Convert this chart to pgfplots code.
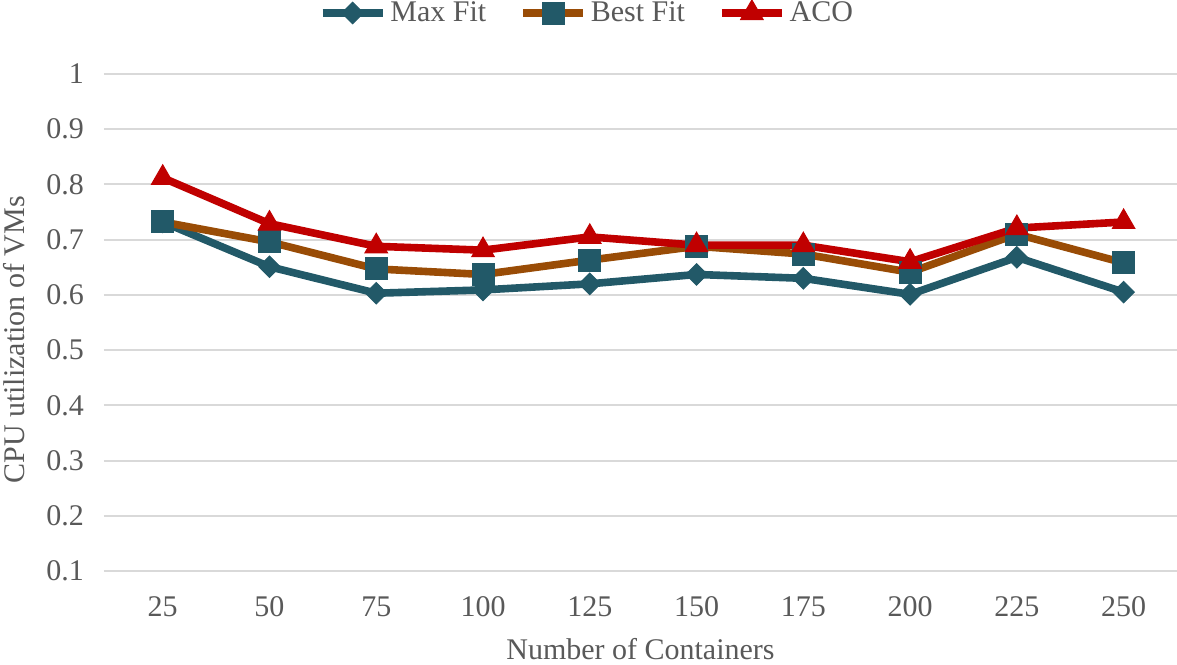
\documentclass[border=0pt]{standalone}
\usepackage{pgfplots}
\pgfplotsset{compat=1.18}
\usepackage{fontspec}
\setmainfont{Liberation Serif}

\definecolor{maxfit}{RGB}{34,89,104}
\definecolor{bestfit}{RGB}{153,76,6}
\definecolor{aco}{RGB}{192,0,0}
\definecolor{txt}{RGB}{89,89,89}
\definecolor{gridc}{RGB}{217,217,217}

\begin{document}
\begin{tikzpicture}
\begin{axis}[
  name=ax,
  scale only axis,
  width=536.5pt, height=248.5pt,
  xmin=-0.55, xmax=9.5,
  ymin=0.1, ymax=1,
  xtick={0,...,9},
  xticklabels={25,50,75,100,125,150,175,200,225,250},
  ytick={0.1,0.2,0.3,0.4,0.5,0.6,0.7,0.8,0.9,1},
  yticklabels={0.1,0.2,0.3,0.4,0.5,0.6,0.7,0.8,0.9,1},
  ymajorgrids,
  major grid style={color=gridc, line width=1pt},
  axis line style={draw=none},
  major tick length=0pt,
  clip=false,
  font=\fontsize{15}{18}\selectfont,
  /pgf/number format/assume math mode=true,
  tick label style={text=txt},
  xticklabel style={anchor=center, yshift=-18pt},
  yticklabel style={anchor=east, xshift=-6.5pt},
  xlabel={Number of Containers},
  ylabel={CPU utilization of VMs},
  label style={text=txt},
  xlabel style={at={(axis description cs:0.5,-0.158)}, anchor=center},
  ylabel style={at={(axis description cs:-0.084,0.465)}, anchor=center},
  legend style={at={(axis description cs:0.451,1)}, anchor=center, yshift=30.5pt,
    draw=none, fill=none, legend columns=3, text=txt,
    /tikz/every even column/.append style={column sep=14.5pt}},
  legend image code/.code={\draw[mark repeat=2,mark phase=2] plot coordinates {(0pt,0pt) (15pt,0pt) (30pt,0pt)};},
]
\addplot[color=maxfit, line width=3.8pt, mark=square*, mark size=3.8pt,
  mark options={rotate=45, line width=0.5pt, fill=maxfit, draw=maxfit}]
  coordinates {(0,0.732) (1,0.651) (2,0.603) (3,0.609) (4,0.620) (5,0.637) (6,0.630) (7,0.601) (8,0.668) (9,0.605)};
\addlegendentry{Max Fit}
\addplot[color=bestfit, line width=3.8pt, mark=square*, mark size=5.5pt,
  mark options={line width=0.5pt, fill=maxfit, draw=maxfit}]
  coordinates {(0,0.732) (1,0.696) (2,0.647) (3,0.637) (4,0.663) (5,0.688) (6,0.674) (7,0.641) (8,0.710) (9,0.658)};
\addlegendentry{Best Fit}
\addplot[color=aco, line width=3.8pt, mark=triangle*, mark size=6.5pt,
  mark options={line width=0.5pt, fill=aco, draw=aco}]
  coordinates {(0,0.812) (1,0.729) (2,0.688) (3,0.681) (4,0.705) (5,0.690) (6,0.690) (7,0.660) (8,0.721) (9,0.732)};
\addlegendentry{ACO}
\end{axis}
\pgfresetboundingbox
\useasboundingbox ([xshift=-52pt,yshift=-46.5pt]ax.south west) rectangle ([yshift=37pt]ax.north east);
\end{tikzpicture}
\end{document}
